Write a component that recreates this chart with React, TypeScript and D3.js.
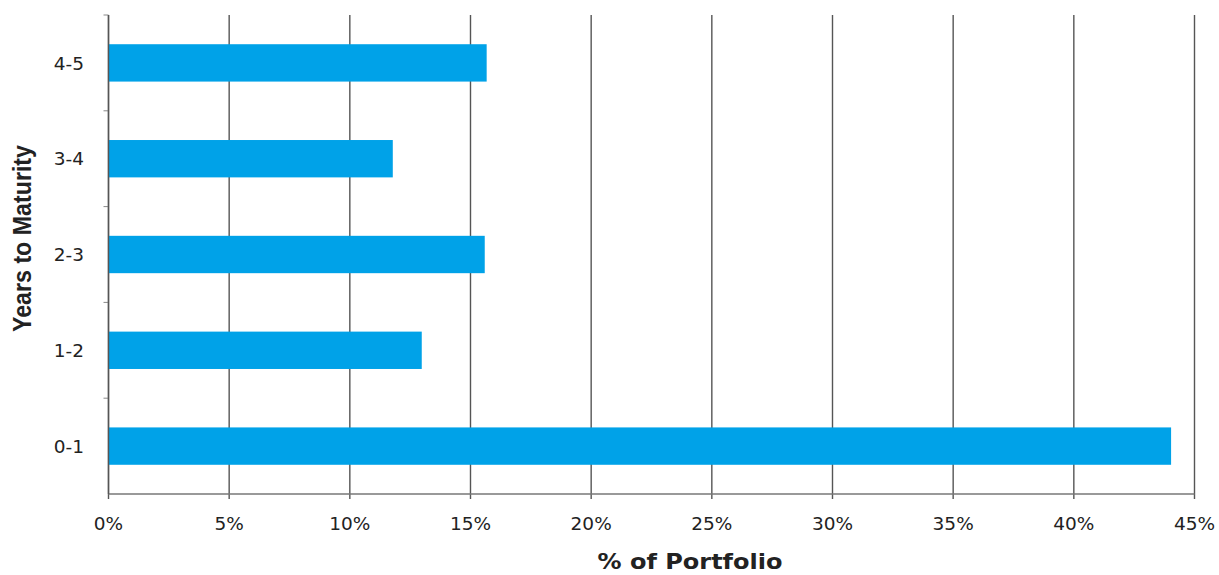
import React from "react";
import * as d3 from "d3";

const categories = ["4-5", "3-4", "2-3", "1-2", "0-1"];
const values = [15.67, 11.78, 15.59, 12.98, 44.03];
const xTicks = [0, 5, 10, 15, 20, 25, 30, 35, 40, 45];
const xTitle = "% of Portfolio";
const yTitle = "Years to Maturity";

export default function App() {
  const W = 1219, H = 575;
  const left = 108.5, right = 1194.5, top = 15, bottom = 494;
  const x = d3.scaleLinear().domain([0, 45]).range([left, right]);
  const y = d3.scaleBand().domain(categories).range([top, bottom]).paddingInner(0.61).paddingOuter(0.305);
  const outer = d3.scaleBand().domain(categories).range([top, bottom]);
  const font = "'DejaVu Sans', Verdana, sans-serif";
  return (
    <svg width={W} height={H} style={{ position: "absolute", left: 0, top: 0, background: "#fff" }}>
      {xTicks.map((t) => (
        <g key={t}>
          <line x1={x(t)} x2={x(t)} y1={top} y2={bottom + 5} stroke="#555" strokeWidth={1.4} />
          <text x={x(t)} y={530} textAnchor="middle" fontFamily={font} fontSize={18.5} fill="#222">{t}%</text>
        </g>
      ))}
      {categories.map((c, i) => (
        <g key={c}>
          <line x1={left - 5} x2={left} y1={outer(c)!} y2={outer(c)!} stroke="#888" strokeWidth={1} />
          <rect x={x(0)} y={y(c)!} width={x(values[i]) - x(0)} height={y.bandwidth()} fill="#00A2E8" />
          <text x={84} y={y(c)! + y.bandwidth() / 2} dy="0.36em" textAnchor="end" fontFamily={font} fontSize={18.5} fill="#222">{c}</text>
        </g>
      ))}
      <line x1={left} x2={right} y1={bottom} y2={bottom} stroke="#777" strokeWidth={1.4} />
      <line x1={left} x2={left} y1={top} y2={bottom} stroke="#555" strokeWidth={1.4} />
      <text x={690} y={569} textAnchor="middle" fontFamily={font} fontWeight="bold" fontSize={20.5} fill="#222" textLength={185} lengthAdjust="spacingAndGlyphs">{xTitle}</text>
      <text transform={`translate(31, 238.5) rotate(-90)`} textAnchor="middle" fontFamily="'Liberation Sans Narrow', 'Arial Narrow', 'Liberation Sans', Arial, sans-serif" fontWeight="bold" fontSize={26} fill="#222" textLength={187} lengthAdjust="spacingAndGlyphs">{yTitle}</text>
    </svg>
  );
}
